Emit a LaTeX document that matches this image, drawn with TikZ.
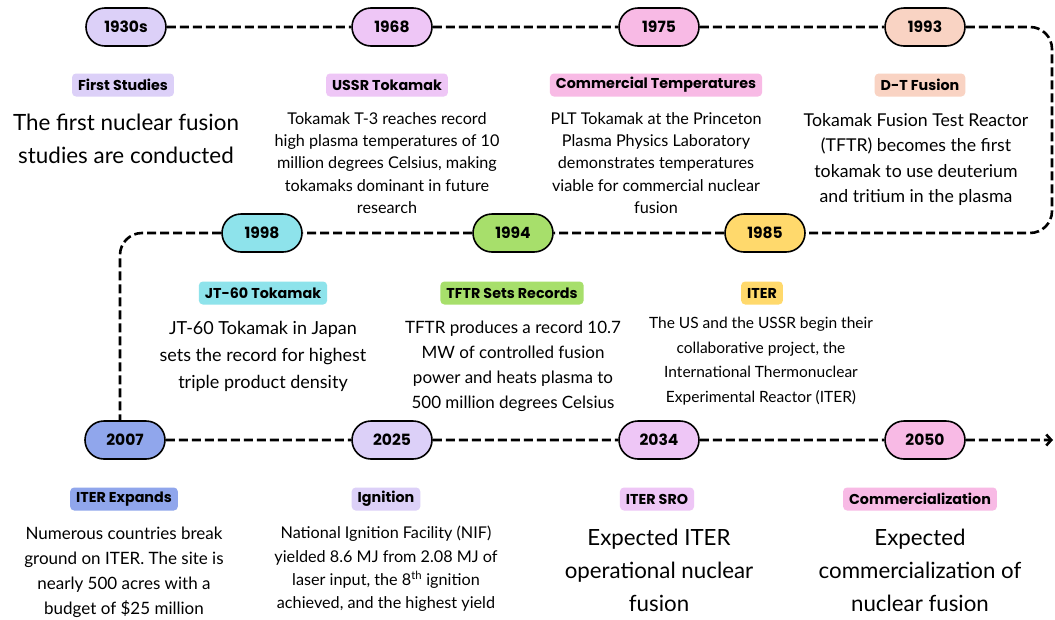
\documentclass[tikz,border=0pt]{standalone}
\usepackage{fontspec}
\setmainfont{Poppins}
\newfontfamily\bodyfont{Lato}
\usetikzlibrary{shapes.misc,arrows.meta}
\definecolor{cLavA}{HTML}{DCD0F8}
\definecolor{cOrch}{HTML}{EEC6F6}
\definecolor{cPink}{HTML}{F8BAE5}
\definecolor{cPeach}{HTML}{F9D3C3}
\definecolor{cCyan}{HTML}{8EE3EB}
\definecolor{cLime}{HTML}{A7DF6B}
\definecolor{cGold}{HTML}{FFD96C}
\definecolor{cBlue}{HTML}{90A6EC}
\begin{document}
\begin{tikzpicture}[x=1pt,y=-1pt,
	year/.style={rounded rectangle,draw,line width=1.6pt,minimum width=80pt,minimum height=38pt,inner sep=0pt,font=\fontsize{15.5}{15.5}\selectfont\bfseries},
	tag/.style={rounded corners=4pt,inner xsep=6pt,inner ysep=0pt,minimum height=23pt,font=\fontsize{14.3}{14.3}\selectfont\bfseries},
	desc/.style={align=center,anchor=north,inner sep=0pt},
	tline/.style={line width=2.6pt,dash pattern=on 9pt off 4pt,rounded corners=22pt}]
	\path[fill=white,use as bounding box] (0,0) rectangle (1055,619);
	% Top row
	\node[year,fill=cLavA] (n1930) at (126,27) {1930s};
	\node[year,fill=cOrch] (n1968) at (392,27) {1968};
	\node[year,fill=cPink] (n1975) at (659,27) {1975};
	\node[year,fill=cPeach] (n1993) at (925,27) {1993};
	\node[tag,fill=cLavA] (t1930) at (123,85) {First Studies};
	\node[tag,fill=cOrch] (t1968) at (387,85) {USSR Tokamak};
	\node[tag,fill=cPink] (t1975) at (656,85) {Commercial Temperatures};
	\node[tag,fill=cPeach] (t1993) at (920,85) {D-T Fusion};
	\node[desc,font=\bodyfont\fontsize{22.4}{33}\selectfont] (d1930) at (126,114) {The first nuclear fusion\\studies are conducted};
	\node[desc,font=\bodyfont\fontsize{16.2}{22.4}\selectfont] (d1968) at (387,112) {Tokamak T-3 reaches record\\high plasma temperatures of 10\\million degrees Celsius, making\\tokamaks dominant in future\\research};
	\node[desc,font=\bodyfont\fontsize{16.2}{22.4}\selectfont] (d1975) at (656,112) {PLT Tokamak at the Princeton\\Plasma Physics Laboratory\\demonstrates temperatures\\viable for commercial nuclear\\fusion};
	\node[desc,font=\bodyfont\fontsize{17.7}{25.5}\selectfont] (d1993) at (916,113) {Tokamak Fusion Test Reactor\\(TFTR) becomes the first\\tokamak to use deuterium\\and tritium in the plasma};
	% Middle row
	\node[year,fill=cCyan] (n1998) at (262,233) {1998};
	\node[year,fill=cLime] (n1994) at (513,233) {1994};
	\node[year,fill=cGold] (n1985) at (765,233) {1985};
	\node[tag,fill=cCyan] (t1998) at (263,293) {JT-60 Tokamak};
	\node[tag,fill=cLime] (t1994) at (512,293) {TFTR Sets Records};
	\node[tag,fill=cGold] (t1985) at (762,293) {ITER};
	\node[desc,font=\bodyfont\fontsize{18}{27}\selectfont] (d1998) at (263,321) {JT-60 Tokamak in Japan\\sets the record for highest\\triple product density};
	\node[desc,font=\bodyfont\fontsize{17}{25}\selectfont] (d1994) at (513,321) {TFTR produces a record 10.7\\MW of controlled fusion\\power and heats plasma to\\500 million degrees Celsius};
	\node[desc,font=\bodyfont\fontsize{15.5}{24.5}\selectfont] (d1985) at (761,317) {The US and the USSR begin their\\collaborative project, the\\International Thermonuclear\\Experimental Reactor (ITER)};
	% Bottom row
	\node[year,fill=cBlue] (n2007) at (125,440) {2007};
	\node[year,fill=cLavA] (n2025) at (392,440) {2025};
	\node[year,fill=cOrch] (n2034) at (659,440) {2034};
	\node[year,fill=cPink] (n2050) at (925,440) {2050};
	\node[tag,fill=cBlue] (t2007) at (124,499) {ITER Expands};
	\node[tag,fill=cLavA] (t2025) at (386,499) {Ignition};
	\node[tag,fill=cOrch] (t2034) at (657,499) {ITER SRO};
	\node[tag,fill=cPink] (t2050) at (920,499) {Commercialization};
	\node[desc,font=\bodyfont\fontsize{17}{24.8}\selectfont] (d2007) at (124,527) {Numerous countries break\\ground on ITER. The site is\\nearly 500 acres with a\\budget of \$25 million};
	\node[desc,font=\bodyfont\fontsize{16.2}{23.3}\selectfont] (d2025) at (386,526) {National Ignition Facility (NIF)\\yielded 8.6 MJ from 2.08 MJ of\\laser input, the 8\textsuperscript{th} ignition\\achieved, and the highest yield};
	\node[desc,font=\bodyfont\fontsize{22.3}{33}\selectfont] (d2034) at (659,529) {Expected ITER\\operational nuclear\\fusion};
	\node[desc,font=\bodyfont\fontsize{22.3}{33}\selectfont] (d2050) at (920,529) {Expected\\commercialization of\\nuclear fusion};
	% Dashed timeline
	\coordinate (cNE) at (1052,27);
	\coordinate (cSE) at (1052,233);
	\coordinate (cNW) at (120,233);
	\coordinate (arrEnd) at (1053,440);
	\draw[tline] (n1930) -- (n1968);
	\draw[tline] (n1968) -- (n1975);
	\draw[tline] (n1975) -- (n1993);
	\draw[tline] (n1993) -- (cNE) -- (cSE) -- (n1985);
	\draw[tline] (n1985) -- (n1994);
	\draw[tline] (n1994) -- (n1998);
	\draw[tline] (n1998) -- (cNW) -- (cNW |- n2007.north);
	\draw[tline] (n2007) -- (n2025);
	\draw[tline] (n2025) -- (n2034);
	\draw[tline] (n2034) -- (n2050);
	\draw[tline,-{Straight Barb[length=5pt,width=11pt]}] (n2050) -- (arrEnd);
\end{tikzpicture}
\end{document}
